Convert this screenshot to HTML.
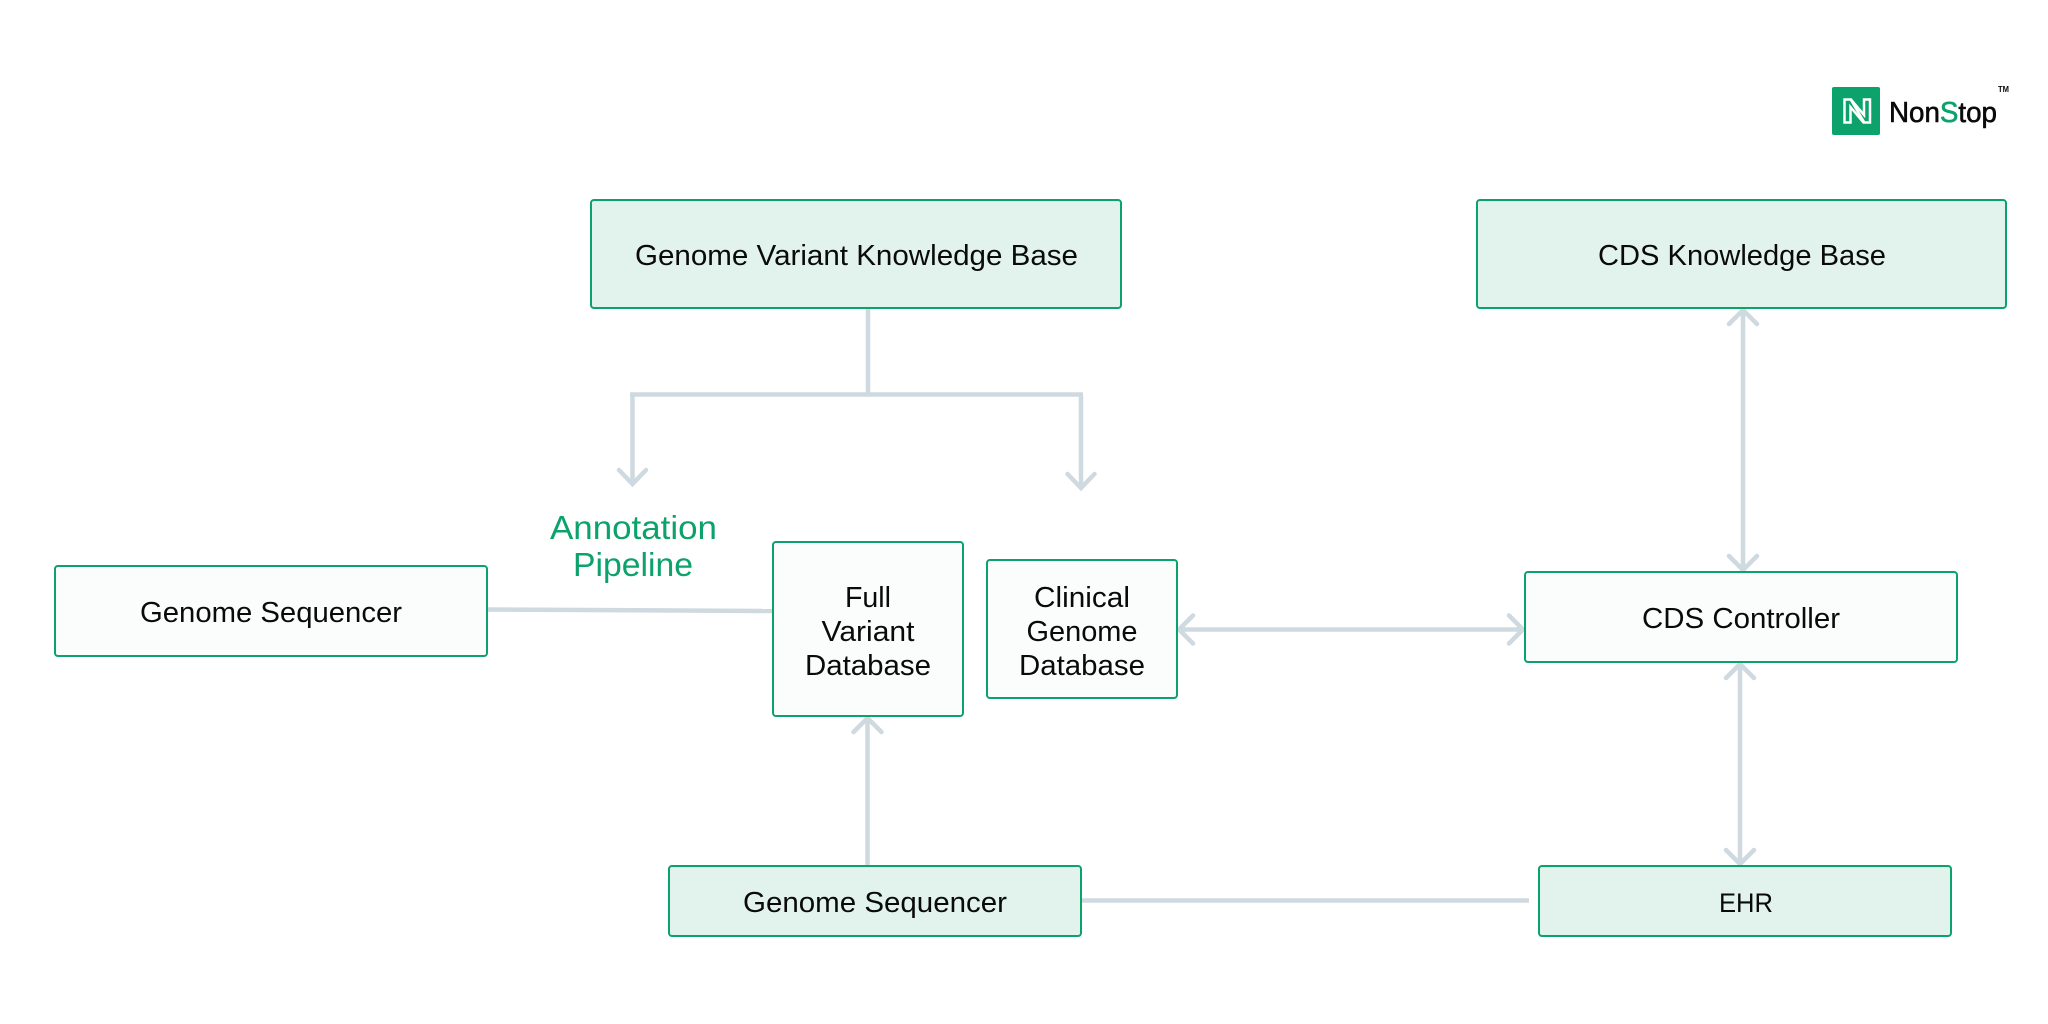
<!DOCTYPE html>
<html><head><meta charset="utf-8"><title>Diagram</title>
<style>html,body{margin:0;padding:0;background:#fff}svg{display:block}
text{font-family:"Liberation Sans",sans-serif;fill:#0a0a0a;font-size:29px}</style></head>
<body>
<svg width="2048" height="1024" viewBox="0 0 2048 1024" xmlns="http://www.w3.org/2000/svg">
<rect width="2048" height="1024" fill="#fff"/>
<g fill="none" stroke="#cfd9e0" stroke-width="4.500">
<path d="M868 308V394M630 394.500H1083M632.500 393V484M1081 396V488"/>
<path d="M619 470L632.500 484L646 470M1067.500 474L1081 488L1094.500 474" stroke-linecap="round"/>
<path d="M487 609.500L773 611"/>
<path d="M867.500 866V718M853.500 732L867.500 718L881.500 732" stroke-linecap="round"/>
<path d="M1179 629.500H1523M1193 615.500L1179 629.500L1193 643.500M1509 615.500L1523 629.500L1509 643.500" stroke-linecap="round"/>
<path d="M1743 310V570M1729 324L1743 310L1757 324M1729 556L1743 570L1757 556" stroke-linecap="round"/>
<path d="M1740 664V864M1726 678L1740 664L1754 678M1726 850L1740 864L1754 850" stroke-linecap="round"/>
<path d="M1081 900.500H1529"/>
</g>
<g stroke="#0ba26b" stroke-width="2">
<rect x="591" y="200" width="530" height="108" rx="3" fill="#e2f2ec"/>
<rect x="1477" y="200" width="529" height="108" rx="3" fill="#e2f2ec"/>
<rect x="55" y="566" width="432" height="90" rx="3" fill="#fbfcfc"/>
<rect x="773" y="542" width="190" height="174" rx="3" fill="#fbfcfc"/>
<rect x="987" y="560" width="190" height="138" rx="3" fill="#fbfcfc"/>
<rect x="1525" y="572" width="432" height="90" rx="3" fill="#fbfcfc"/>
<rect x="669" y="866" width="412" height="70" rx="3" fill="#e2f2ec"/>
<rect x="1539" y="866" width="412" height="70" rx="3" fill="#e2f2ec"/>
</g>
<text x="635" y="265" textLength="443" lengthAdjust="spacingAndGlyphs">Genome Variant Knowledge Base</text>
<text x="1598" y="265" textLength="288" lengthAdjust="spacingAndGlyphs">CDS Knowledge Base</text>
<text x="140" y="622" textLength="262" lengthAdjust="spacingAndGlyphs">Genome Sequencer</text>
<text x="845" y="607" textLength="46" lengthAdjust="spacingAndGlyphs">Full</text>
<text x="821.500" y="641" textLength="93" lengthAdjust="spacingAndGlyphs">Variant</text>
<text x="805" y="675" textLength="126" lengthAdjust="spacingAndGlyphs">Database</text>
<text x="1034" y="607" textLength="96" lengthAdjust="spacingAndGlyphs">Clinical</text>
<text x="1026.500" y="641" textLength="111" lengthAdjust="spacingAndGlyphs">Genome</text>
<text x="1019" y="675" textLength="126" lengthAdjust="spacingAndGlyphs">Database</text>
<text x="1642" y="628" textLength="198" lengthAdjust="spacingAndGlyphs">CDS Controller</text>
<text x="743" y="912" textLength="264" lengthAdjust="spacingAndGlyphs">Genome Sequencer</text>
<text x="1719" y="912" textLength="54" lengthAdjust="spacingAndGlyphs" style="font-size:27px">EHR</text>
<text x="550" y="539" textLength="167" lengthAdjust="spacingAndGlyphs" style="font-size:33px;fill:#0ba26b">Annotation</text>
<text x="573" y="576" textLength="120" lengthAdjust="spacingAndGlyphs" style="font-size:33px;fill:#0ba26b">Pipeline</text>
<rect x="1832" y="87" width="48" height="48" rx="2" fill="#0ba26b"/>
<path d="M1844.500 99.500H1851L1864 115V99.500H1870V122.500H1863.500L1850.500 107V122.500H1844.500Z" fill="none" stroke="#fff" stroke-width="2.500"/>
<path d="M1851 100L1864 122" fill="none" stroke="#fff" stroke-width="2.500"/>
<text x="1889" y="122" textLength="108" lengthAdjust="spacingAndGlyphs" style="font-size:29px;stroke:#0b0b0b;stroke-width:.6">Non<tspan style="fill:#0ba26b;stroke:#0ba26b">S</tspan>top</text>
<text x="1998" y="92" textLength="11" lengthAdjust="spacingAndGlyphs" style="font-size:8px;font-weight:bold">TM</text>
</svg>
</body></html>
